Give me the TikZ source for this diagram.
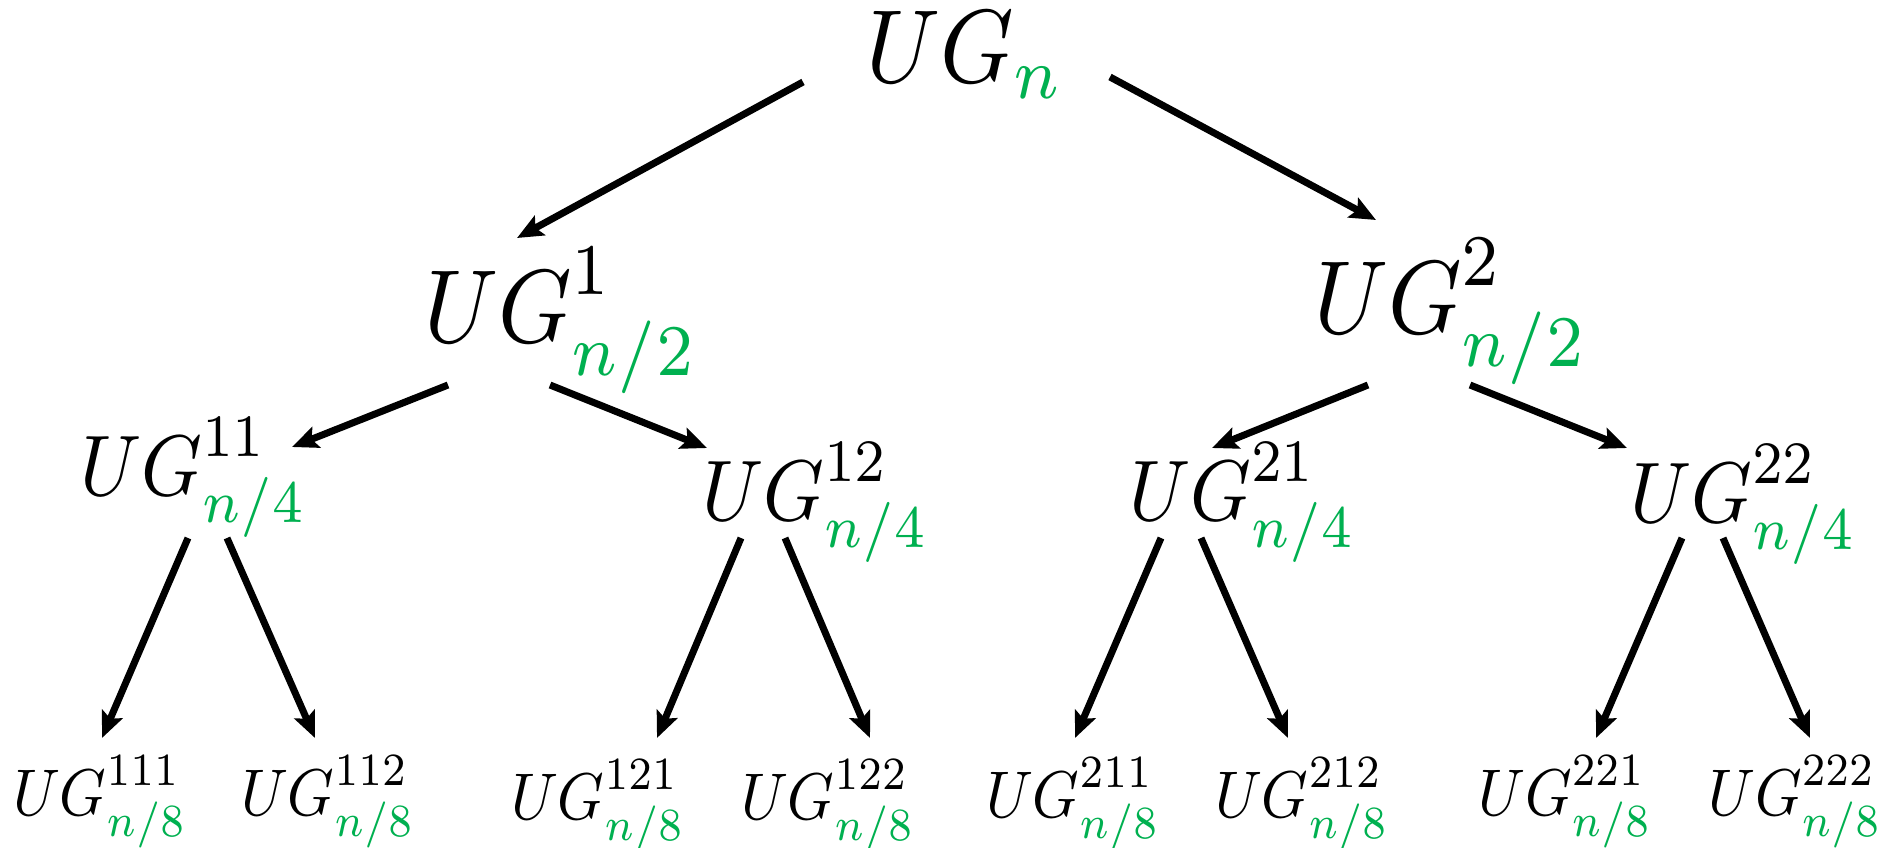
\documentclass[tikz,border=0pt]{standalone}
\usetikzlibrary{arrows.meta}
\definecolor{sg}{RGB}{0,176,80}
\newcommand{\supr}[1]{\raisebox{0.9pt}{$\scriptstyle #1$}}
\newcommand{\ug}[2]{$UG^{\supr{#1}}_{\textcolor{sg}{#2}}$}
\tikzset{
  lab/.style={anchor=base west, inner sep=0pt, outer sep=0pt, font=\fontsize{10}{12}\selectfont},
  big/.style={lab, scale=10.4, xscale=0.9},
  mid/.style={lab, scale=8.6, xscale=0.9},
  small/.style={lab, scale=6.6, xscale=0.9},
  arr/.style={line width=7pt, -{Stealth[length=26pt,width=22pt,inset=5pt]}}
}
\begin{document}
\begin{tikzpicture}[x=1pt,y=-1pt]
\useasboundingbox (0,0) rectangle (1893,848);
% labels
\node[big] (root) at (866,83) {$UG_{\textcolor{sg}{n}}$};
\node[big] (a1) at (424,342) {\ug{1}{n/2}};
\node[big] (a2) at (1314,333) {\ug{2}{n/2}};
\node[mid] (b11) at (80,495) {\ug{11}{n/4}};
\node[mid] (b12) at (702,520) {\ug{12}{n/4}};
\node[mid] (b21) at (1129,520) {\ug{21}{n/4}};
\node[mid] (b22) at (1630,522) {\ug{22}{n/4}};
\node[small] (c111) at (13,815) {\ug{111}{n/8}};
\node[small] (c112) at (241,815) {\ug{112}{n/8}};
\node[small] (c121) at (511,819) {\ug{121}{n/8}};
\node[small] (c122) at (741,819) {\ug{122}{n/8}};
\node[small] (c211) at (986,817) {\ug{211}{n/8}};
\node[small] (c212) at (1215,817) {\ug{212}{n/8}};
\node[small] (c221) at (1478,815) {\ug{221}{n/8}};
\node[small] (c222) at (1708,815) {\ug{222}{n/8}};
% connector end points
\coordinate (root-l) at (803,82);   \coordinate (a1-in) at (517,238);
\coordinate (root-r) at (1110,77);  \coordinate (a2-in) at (1376,220);
\coordinate (a1-l) at (448,385);    \coordinate (b11-in) at (292,447);
\coordinate (a1-r) at (550,385);    \coordinate (b12-in) at (707,448);
\coordinate (a2-l) at (1368,385);   \coordinate (b21-in) at (1212,448);
\coordinate (a2-r) at (1470,385);   \coordinate (b22-in) at (1627,448);
\coordinate (b11-l) at (188,538);   \coordinate (c111-in) at (102,738);
\coordinate (b11-r) at (227,538);   \coordinate (c112-in) at (315,738);
\coordinate (b12-l) at (741,538);   \coordinate (c121-in) at (657,738);
\coordinate (b12-r) at (785,538);   \coordinate (c122-in) at (870,738);
\coordinate (b21-l) at (1161,538);  \coordinate (c211-in) at (1075,738);
\coordinate (b21-r) at (1201,538);  \coordinate (c212-in) at (1288,738);
\coordinate (b22-l) at (1682,538);  \coordinate (c221-in) at (1596,738);
\coordinate (b22-r) at (1723,538);  \coordinate (c222-in) at (1810,738);
% connectors
\draw[arr] (root-l) -- (a1-in);
\draw[arr] (root-r) -- (a2-in);
\draw[arr] (a1-l) -- (b11-in);
\draw[arr] (a1-r) -- (b12-in);
\draw[arr] (a2-l) -- (b21-in);
\draw[arr] (a2-r) -- (b22-in);
\draw[arr] (b11-l) -- (c111-in);
\draw[arr] (b11-r) -- (c112-in);
\draw[arr] (b12-l) -- (c121-in);
\draw[arr] (b12-r) -- (c122-in);
\draw[arr] (b21-l) -- (c211-in);
\draw[arr] (b21-r) -- (c212-in);
\draw[arr] (b22-l) -- (c221-in);
\draw[arr] (b22-r) -- (c222-in);
\end{tikzpicture}
\end{document}
